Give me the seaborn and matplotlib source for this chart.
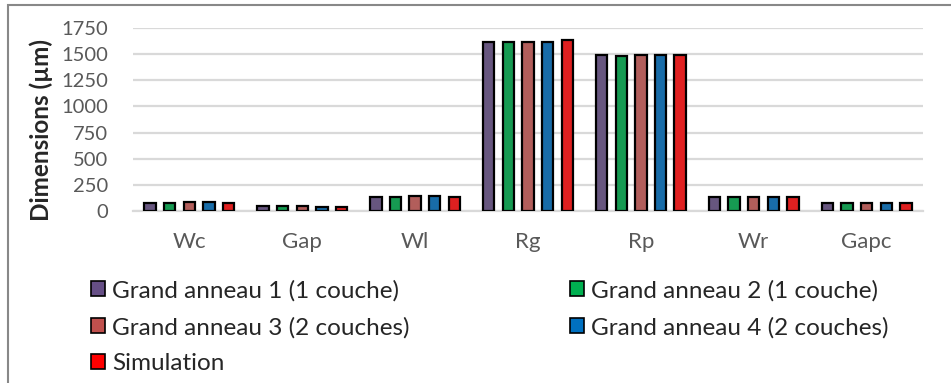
import matplotlib
matplotlib.use("Agg")
import matplotlib.pyplot as plt
import pandas as pd
import seaborn as sns
from matplotlib.patches import Patch, Rectangle

categories = ["Wc", "Gap", "Wl", "Rg", "Rp", "Wr", "Gapc"]
series = [
    "Grand anneau 1 (1 couche)",
    "Grand anneau 2 (1 couche)",
    "Grand anneau 3 (2 couches)",
    "Grand anneau 4 (2 couches)",
    "Simulation",
]
ga1 = [75, 45, 130, 1620, 1490, 135, 80]
ga2 = [75, 45, 130, 1615, 1485, 135, 75]
ga3 = [82, 45, 143, 1620, 1495, 135, 75]
ga4 = [82, 43, 143, 1620, 1490, 135, 75]
sim = [75, 42, 135, 1632, 1495, 135, 75]
colors = ["#664F86", "#00B050", "#C0504D", "#0070C0", "#FF0000"]

rows = []
for name, vals in zip(series, [ga1, ga2, ga3, ga4, sim]):
    for cat, v in zip(categories, vals):
        rows.append({"Parametre": cat, "Serie": name, "Valeur": v})
data = pd.DataFrame(rows)

sns.set_style("white")
plt.rcParams["font.family"] = ["Lato", "DejaVu Sans"]

fig = plt.figure(figsize=(9.51, 3.83), dpi=100)
ax = fig.add_axes([133 / 951, 1 - 211 / 383, (923 - 133) / 951, (211 - 28) / 383])

sns.barplot(
    data,
    x="Parametre",
    y="Valeur",
    hue="Serie",
    hue_order=series,
    palette=colors,
    width=0.87,
    gap=0.42,
    edgecolor="black",
    linewidth=1.6,
    legend=False,
    ax=ax,
    zorder=3,
)

ax.set_ylim(0, 1750)
ax.set_yticks(range(0, 1751, 250))
ax.yaxis.grid(True, color="#D9D9D9", linewidth=1.6, zorder=0)
ax.set_axisbelow(True)
for s in ["left", "right", "top"]:
    ax.spines[s].set_visible(False)
ax.spines["bottom"].set_color("#D9D9D9")
ax.spines["bottom"].set_linewidth(1.6)
ax.tick_params(axis="both", length=0, labelcolor="#595959")
ax.tick_params(axis="x", labelsize=16, pad=15)
ax.tick_params(axis="y", labelsize=14.5, pad=18)
ax.set_xlabel("")
ax.set_ylabel("Dimensions (µm)", fontsize=17.5, fontweight="bold")
ax.yaxis.set_label_coords(-0.101, 0.44)

handles = [Patch(facecolor=c, edgecolor="black", linewidth=1.2) for c in colors]
leg_opts = dict(
    loc="upper left",
    frameon=False,
    fontsize=17.5,
    borderpad=0,
    borderaxespad=0,
    handlelength=0.58,
    handleheight=0.58,
    handletextpad=0.3,
    labelspacing=0.62,
)
fig.legend(
    [handles[i] for i in [0, 2, 4]],
    [series[i] for i in [0, 2, 4]],
    bbox_to_anchor=(91 / 951, 1 - 280 / 383),
    **leg_opts,
)
fig.legend(
    [handles[i] for i in [1, 3]],
    [series[i] for i in [1, 3]],
    bbox_to_anchor=(570 / 951, 1 - 280 / 383),
    **leg_opts,
)

fig.patches.append(
    Rectangle(
        (8 / 951, -0.1),
        1.2,
        1.1 - 5 / 383,
        transform=fig.transFigure,
        fill=False,
        edgecolor="#888888",
        linewidth=1.5,
    )
)

fig.savefig("out.png", dpi=100)
